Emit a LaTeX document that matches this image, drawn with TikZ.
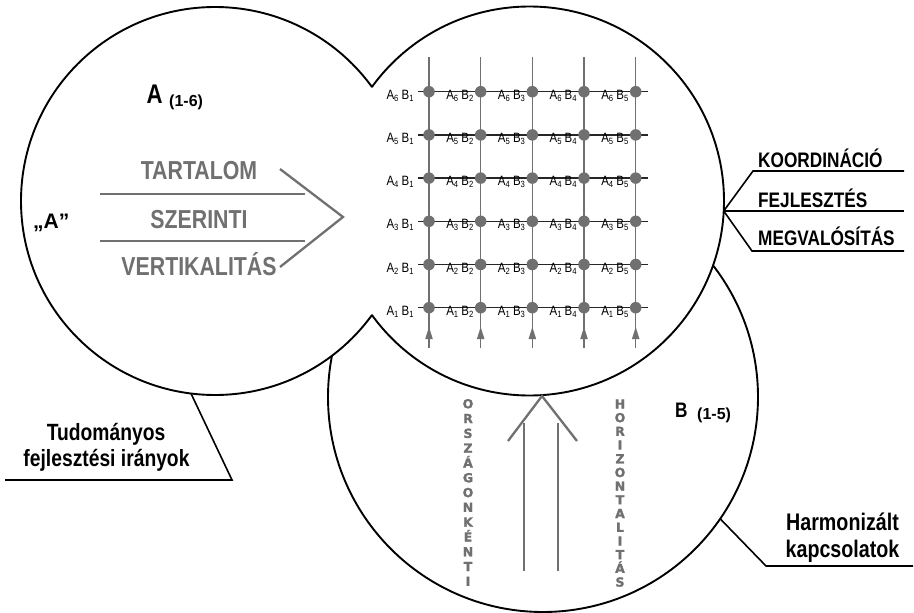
\documentclass[tikz,border=0pt]{standalone}
\usepackage{fontspec}
\usetikzlibrary{calc}
\setmainfont{Liberation Sans}
\newfontfamily\cf{Liberation Sans}[FakeStretch=0.82]
\newfontfamily\gf{Liberation Sans}[FakeStretch=0.85]
\newfontfamily\vf{DejaVu Sans}[FakeBold=1.5]
\definecolor{gr}{HTML}{707070}
\newcommand\gridlab[2]{A\raisebox{-0.3ex}{\fontsize{9}{9}\selectfont #1}\ B\raisebox{-0.3ex}{\fontsize{9}{9}\selectfont #2}}
\tikzset{
 circ/.style={line width=1.9pt, black},
 conn/.style={line width=1.6pt, black},
 gline/.style={draw=gr, line width=2.3pt},
 vline/.style={draw=gr, line width=1.4pt},
 hline/.style={draw=black!85, line width=1.3pt},
 dot/.style={circle, fill=gr, inner sep=0pt, minimum size=11.5pt},
 glab/.style={font=\gf\fontsize{13.5}{14}\selectfont, text=black, inner sep=0pt},
 blab/.style={font=\cf\bfseries\fontsize{21}{23}\selectfont, inner sep=0pt},
 tlab/.style={font=\cf\bfseries\fontsize{23.5}{25}\selectfont, inner sep=0pt},
 hlab/.style={font=\cf\bfseries\fontsize{24}{25}\selectfont, inner sep=0pt},
 gtext/.style={font=\cf\bfseries\fontsize{26}{28}\selectfont, text=gr, inner sep=0pt},
 rng/.style={font=\bfseries\fontsize{16}{17}\selectfont, inner sep=0pt},
 vlet/.style={font=\vf\bfseries\fontsize{12.5}{13}\selectfont, text=gr, inner sep=0pt},
}
\begin{document}
\begin{tikzpicture}[x=1pt,y=-1pt]
\useasboundingbox (0,0) rectangle (914,613);
\fill[white] (0,0) rectangle (914,613);
\coordinate (Ac) at (215,201);
\coordinate (Rc) at (529.5,201);
\coordinate (Bc) at (543,397);
\def\rA{194}
\def\rR{194.5}
\def\rB{215}
% left circle, outside the right one
\begin{scope}[even odd rule]
\clip (-20,-20) rectangle (934,633) (Rc) circle[radius=\rR];
\draw[circ] (Ac) circle[radius=\rA];
\end{scope}
% right circle, outside the left one
\begin{scope}[even odd rule]
\clip (-20,-20) rectangle (934,633) (Ac) circle[radius=\rA];
\draw[circ] (Rc) circle[radius=\rR];
\end{scope}
% B circle, outside both
\begin{scope}[even odd rule]
\clip (-20,-20) rectangle (934,633) (Ac) circle[radius=\rA];
\clip (-20,-20) rectangle (934,633) (Rc) circle[radius=\rR];
\draw[circ] (Bc) circle[radius=\rB];
\end{scope}

% grid
\foreach \j in {1,...,5}{
  \pgfmathsetmacro\xx{429+51.675*(\j-1)}
  \draw[vline] (\xx,57) -- (\xx,348);
  \fill[gr] (\xx,327) -- (\xx-3.8,339) -- (\xx+3.8,339) -- cycle;
}
\foreach \i in {1,...,6}{
  \pgfmathsetmacro\yy{307.7-43.2*(\i-1)}
  \draw[hline] (418,\yy) -- (648,\yy);
}
\foreach \i in {1,...,6}{
  \pgfmathsetmacro\yy{307.7-43.2*(\i-1)}
  \foreach \j in {1,...,5}{
    \pgfmathsetmacro\xx{429+51.675*(\j-1)}
    \node[dot] (d\i\j) at (\xx,\yy) {};
  }
  \node[glab, anchor=base] (l\i1) at (400,\yy+7.5) {\gridlab{\i}{1}};
  \foreach \j in {2,...,5}{
    \pgfmathsetmacro\xx{429+51.675*(\j-2)+25.8+5}
    \node[glab, anchor=base] (l\i\j) at (\xx,\yy+7.5) {\gridlab{\i}{\j}};
  }
}

% left circle content
\node[font=\cf\bfseries\fontsize{27}{28}\selectfont, inner sep=0pt, anchor=base west] (Alab) at (146.5,103) {A};
\node[rng, anchor=base west] (A16) at (169,106.6) {(1-6)};
\node[font=\bfseries\fontsize{21}{22}\selectfont, inner sep=0pt, anchor=base west] (AA) at (33,228) {„A”};
\node[gtext, anchor=base] (t1) at (199,179) {TARTALOM};
\node[gtext, anchor=base] (t2) at (199,228) {SZERINTI};
\node[gtext, anchor=base] (t3) at (199,275) {VERTIKALITÁS};
\coordinate (l1a) at (100,194); \coordinate (l1b) at (305,194);
\coordinate (l2a) at (100,241); \coordinate (l2b) at (305,241);
\draw[gline, line width=1.8pt] (l1a) -- (l1b);
\draw[gline, line width=1.8pt] (l2a) -- (l2b);
\coordinate (ch1) at (280,169); \coordinate (cht) at (343,217); \coordinate (ch2) at (280,267);
\draw[gline] (ch1) -- (cht) -- (ch2);

% right labels
\coordinate (rp) at (723.7,211);
\coordinate (k1) at (753,171); \coordinate (k1e) at (904,171);
\coordinate (k2e) at (904,211);
\coordinate (k3) at (752,251); \coordinate (k3e) at (904,251);
\draw[conn] (rp) -- (k1) -- (k1e);
\draw[conn] (rp) -- (k2e);
\draw[conn] (rp) -- (k3) -- (k3e);
\node[blab, anchor=base west] (ko) at (758,167) {KOORDINÁCIÓ};
\node[blab, anchor=base west] (fe) at (758,207) {FEJLESZTÉS};
\node[blab, anchor=base west] (me) at (758,245) {MEGVALÓSÍTÁS};

% bottom left label
\coordinate (lp) at (191,393.5);
\coordinate (lq) at (232,480);
\coordinate (lr) at (5,480);
\draw[conn] (lp) -- (lq) -- (lr);
\node[tlab, anchor=base] (tu1) at (106,440) {Tudományos};
\node[tlab, anchor=base] (tu2) at (106.5,466) {fejlesztési irányok};

% bottom right label
\coordinate (hp) at ($(Bc)+(34.5:\rB)$);
\coordinate (hq) at (766,566);
\coordinate (hr) at (913,566);
\draw[conn] (hp) -- (hq) -- (hr);
\node[hlab, anchor=base] (ha1) at (842.5,530) {Harmonizált};
\node[hlab, anchor=base] (ha2) at (842.5,557) {kapcsolatok};

% B label
\node[font=\cf\bfseries\fontsize{21}{22}\selectfont, inner sep=0pt, anchor=base west] (Blab) at (675,417) {B};
\node[rng, anchor=base west] (B15) at (697,419.6) {(1-5)};

% big arrow
\coordinate (v1a) at (524,423); \coordinate (v1b) at (524,571);
\coordinate (v2a) at (558,423); \coordinate (v2b) at (558,571);
\draw[gline] (v1a) -- (v1b);
\draw[gline] (v2a) -- (v2b);
\coordinate (c1) at (508,441); \coordinate (ct) at (542,396); \coordinate (c2) at (577,441);
\draw[gline] (c1) -- (ct) -- (c2);

% vertical words
\foreach \l [count=\i] in {O,R,S,Z,Á,G,O,N,K,É,N,T,I}{
  \node[vlet, anchor=base] (o\i) at (468,408.3+14.8*\i-14.8) {\l};
}
\foreach \l [count=\i] in {H,O,R,I,Z,O,N,T,A,L,I,T,Á,S}{
  \node[vlet, anchor=base] (h\i) at (620,408.5+13.7*\i-13.7) {\l};
}
\end{tikzpicture}
\end{document}
